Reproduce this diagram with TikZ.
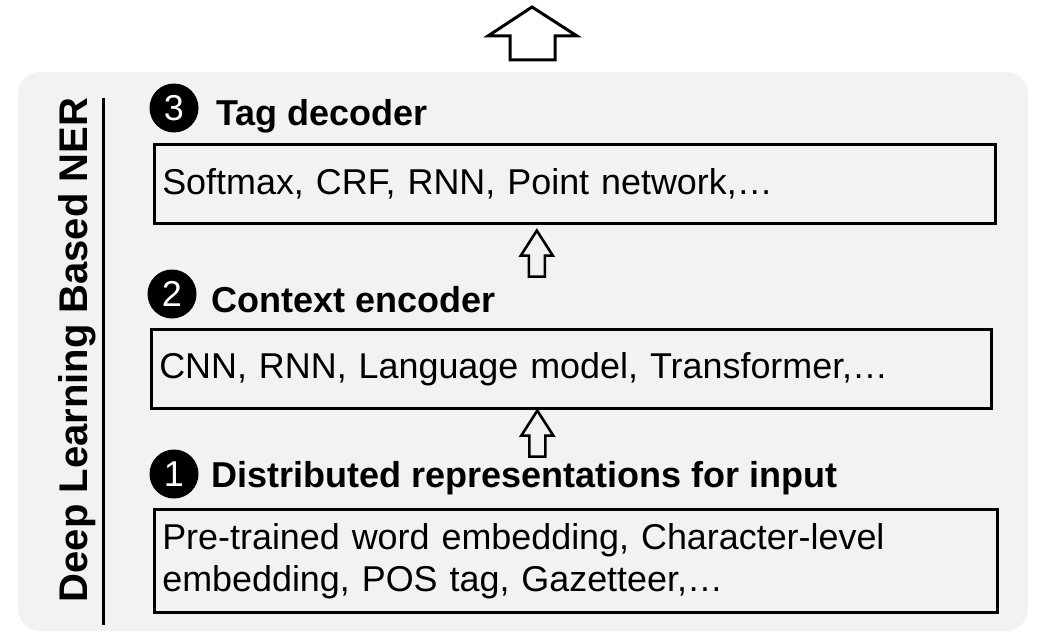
\documentclass[tikz,border=0pt]{standalone}
\usepackage{fontspec}
\setmainfont{Liberation Sans}
\usetikzlibrary{calc}
\definecolor{panelgray}{RGB}{242,242,242}

\tikzset{
    layerbox/.style={draw, line width=2.6pt, anchor=north west, align=left,
        inner xsep=8pt, inner ysep=0pt, font=\fontsize{35.9}{42}\selectfont},
    numdot/.style={circle, fill=black, text=white, minimum size=49pt,
        inner sep=0pt, font=\fontsize{36}{36}\selectfont},
    heading/.style={anchor=base west, inner sep=0pt,
        font=\bfseries\fontsize{36}{40}\selectfont},
    hollowarrow/.style={draw, line width=2.6pt, line join=miter},
    pics/uparrow/.style={code={
        \draw[hollowarrow] (0,0) -- (16,25) -- (8,25) -- (8,46)
            -- (-8,46) -- (-8,25) -- (-16,25) -- cycle;
    }}
}

\begin{document}
\begin{tikzpicture}[x=1pt, y=-1pt]
    \useasboundingbox (0,0) rectangle (1038,634);
    % Output arrow and panel
    \draw[hollowarrow, fill=white, line width=3pt] (532,7) -- (577,36) -- (555,36)
        -- (555,60) -- (510,60) -- (510,36) -- (488,36) -- cycle;
    \fill[panelgray, rounded corners=22pt] (18,72) rectangle (1028,631);
    % Side title
    \node[rotate=90, anchor=base, inner sep=0pt,
        font=\bfseries\fontsize{40}{40}\selectfont] (title) at (87,350) {Deep Learning Based NER};
    \draw[line width=3pt] (103,98) -- (103,625);
    % 3 Tag decoder
    \node[numdot] (n3) at (174,108) {3};
    \node[heading] (h3) at (216,125) {Tag decoder};
    \node[layerbox, minimum width=841pt, minimum height=79pt, text width=825pt]
        (dec) at (153,143) {Softmax, CRF, RNN, Point network,…};
    % 2 Context encoder
    \node[numdot] (n2) at (172,294) {2};
    \node[heading] (h2) at (211,312) {Context encoder};
    \node[layerbox, minimum width=840pt, minimum height=79pt, text width=824pt]
        (enc) at (150,328) {CNN, RNN, Language model, Transformer,…};
    % 1 Distributed representations
    \node[numdot] (n1) at (174,474) {1};
    \node[heading] (h1) at (211,487) {Distributed representations for input};
    \node[layerbox, minimum width=843pt, minimum height=103pt, text width=827pt]
        (rep) at (153,508) {Pre-trained word embedding, Character-level\\
        embedding, POS tag, Gazetteer,…};
    % Flow between layers
    \pic at ($(dec.south)+(-38,6)$) {uparrow};
    \pic at ($(enc.south)+(-34,1)$) {uparrow};
\end{tikzpicture}
\end{document}
